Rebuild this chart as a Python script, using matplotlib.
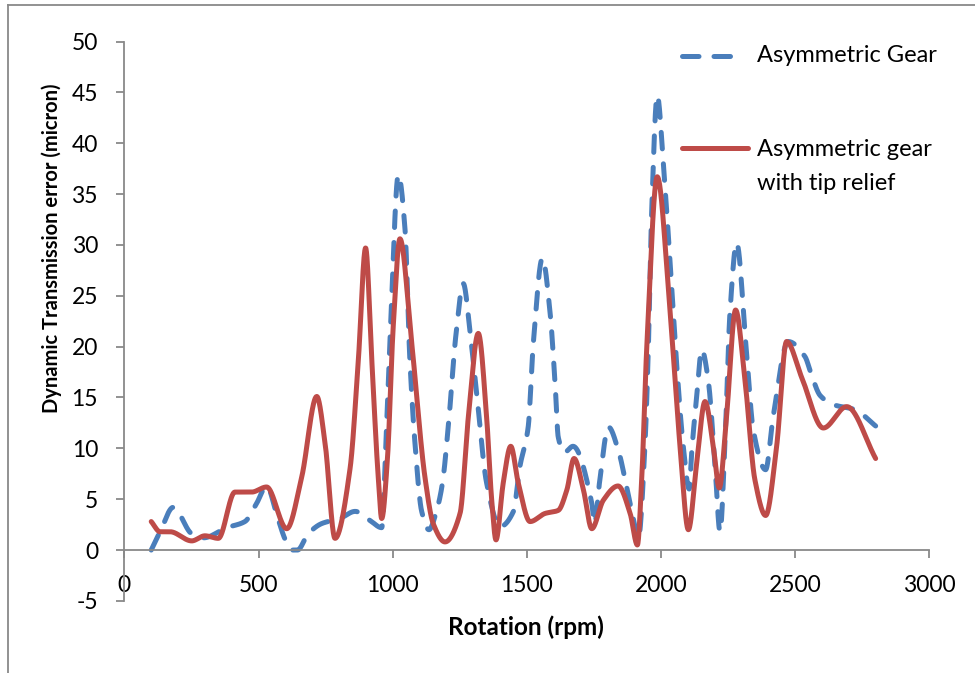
import numpy as np
import matplotlib
matplotlib.use("Agg")
import matplotlib.pyplot as plt
from matplotlib.lines import Line2D

# ---------------- data ----------------
rpm_gear = [100, 133, 182, 251, 294, 381, 449, 493, 530, 570, 600, 625, 645, 685, 735,
            803, 860, 916, 959, 977, 992, 1021, 1046, 1064, 1083, 1108, 1135, 1164,
            1185, 1210, 1235, 1263, 1290, 1313, 1350, 1400, 1450, 1474, 1505, 1524,
            1558, 1586, 1605, 1617, 1640, 1672, 1742, 1752, 1772, 1804, 1841, 1872,
            1903, 1915, 1940, 1953, 1965, 1986, 2009, 2034, 2058, 2083, 2105, 2114,
            2133, 2152, 2176, 2201, 2220, 2238, 2257, 2282, 2317, 2344, 2390, 2418,
            2474, 2537, 2561, 2593, 2642, 2723, 2800]
dte_gear = [0.0, 1.8, 4.2, 1.6, 1.2, 2.2, 2.8, 4.6, 6.3, 3.3, 1.0, 0.0, 0.0, 1.6, 2.6,
            3.1, 3.8, 2.9, 2.2, 12.1, 22.0, 36.9, 31.5, 18.7, 10.5, 3.8, 2.0, 3.9,
            6.5, 13.0, 21.0, 26.2, 21.0, 15.4, 6.6, 2.3, 3.8, 8.2, 12.1, 20.3,
            28.7, 23.5, 16.5, 11.1, 9.6, 10.2, 4.6, 2.6, 6.9, 12.1, 9.8, 6.2,
            2.3, 1.0, 10.2, 20.0, 33.1, 44.7, 38.0, 28.2, 18.4, 10.2, 6.0, 9.5,
            15.1, 19.7, 16.7, 8.5, 1.8, 10.2, 23.3, 30.2, 20.0, 11.8, 7.9, 13.1,
            20.5, 19.0, 17.2, 15.2, 14.3, 13.8, 12.2]

rpm_relief = [100, 133, 170, 251, 300, 350, 412, 474, 530, 605, 661, 717, 748, 785,
              841, 872, 899, 922, 946, 959, 980, 1002, 1027, 1071, 1120, 1151, 1195,
              1251, 1282, 1319, 1350, 1369, 1385, 1412, 1440, 1468, 1512, 1568, 1617,
              1649, 1676, 1711, 1742, 1785, 1840, 1885, 1912, 1928, 1947, 1986, 2034,
              2071, 2102, 2133, 2164, 2195, 2217, 2245, 2278, 2313, 2350, 2390, 2431,
              2468, 2524, 2605, 2692, 2800]
dte_relief = [2.8, 1.8, 1.8, 0.9, 1.4, 1.15, 5.7, 5.7, 6.2, 2.1, 7.2, 15.1, 10.5, 1.15,
              8.0, 18.7, 29.7, 18.7, 7.2, 3.1, 8.8, 22.0, 30.6, 20.3, 7.2, 2.6, 0.8,
              3.6, 13.1, 21.3, 13.1, 4.9, 1.0, 6.6, 10.2, 6.6, 2.8, 3.6, 3.9,
              5.9, 9.0, 5.9, 2.1, 4.9, 6.3, 3.6, 0.5, 6.9, 20.0, 36.7, 23.3,
              10.2, 2.0, 8.5, 14.6, 10.2, 6.1, 13.4, 23.6, 16.7, 6.9, 3.4, 10.2,
              20.5, 17.0, 12.0, 14.1, 9.0]

series_labels = ["Asymmetric Gear", "Asymmetric gear\nwith tip relief"]
x_ticks = [0, 500, 1000, 1500, 2000, 2500, 3000]
y_ticks = [-5, 0, 5, 10, 15, 20, 25, 30, 35, 40, 45, 50]
x_label = "Rotation (rpm)"
y_label = "Dynamic Transmission error (micron)"


def pchip(x, y, xn):
    """Shape-preserving cubic interpolation used only to smooth the drawn line."""
    x = np.asarray(x, float)
    y = np.asarray(y, float)
    h = np.diff(x)
    d = np.diff(y) / h
    m = np.zeros_like(y)
    for k in range(1, len(x) - 1):
        if d[k - 1] * d[k] > 0:
            w1 = 2 * h[k] + h[k - 1]
            w2 = h[k] + 2 * h[k - 1]
            m[k] = (w1 + w2) / (w1 / d[k - 1] + w2 / d[k])
    m[0] = d[0]
    m[-1] = d[-1]
    idx = np.clip(np.searchsorted(x, xn) - 1, 0, len(x) - 2)
    t = (xn - x[idx]) / h[idx]
    h00 = 2 * t**3 - 3 * t**2 + 1
    h10 = t**3 - 2 * t**2 + t
    h01 = -2 * t**3 + 3 * t**2
    h11 = t**3 - t**2
    return h00 * y[idx] + h10 * h[idx] * m[idx] + h01 * y[idx + 1] + h11 * h[idx] * m[idx + 1]


BLUE = "#4A7EBB"
RED = "#BE4B48"
GRAY = "#898989"
FONT = "Lato"
plt.rcParams["font.family"] = [FONT, "DejaVu Sans"]

fig = plt.figure(figsize=(9.75, 6.73), dpi=100)
W, H = 975, 673
ax = fig.add_axes([124.4 / W, (H - 600.9) / H, (929.3 - 124.4) / W, (600.9 - 41.5) / H])

xg = np.linspace(rpm_gear[0], rpm_gear[-1], 3000)
xr = np.linspace(rpm_relief[0], rpm_relief[-1], 3000)

lw = 3.6
ax.plot(xg, pchip(rpm_gear, dte_gear, xg), color=BLUE, lw=lw,
        dashes=(3.3, 3.0), dash_capstyle="round", solid_capstyle="round")
ax.plot(xr, pchip(rpm_relief, dte_relief, xr), color=RED, lw=lw,
        solid_capstyle="round", solid_joinstyle="round")

ax.set_xlim(0, 3000)
ax.set_ylim(-5, 50)

for s in ["top", "right"]:
    ax.spines[s].set_visible(False)
ax.spines["bottom"].set_position(("data", 0))
for s in ["left", "bottom"]:
    ax.spines[s].set_color(GRAY)
    ax.spines[s].set_linewidth(1.3)

ax.set_xticks(x_ticks)
ax.set_yticks(y_ticks)
ax.set_xticklabels([str(v) for v in x_ticks])
ax.set_yticklabels([str(v) for v in y_ticks])
ax.tick_params(axis="both", direction="out", length=5.5, width=1.3, color=GRAY,
               labelsize=16.5, labelcolor="black")
ax.tick_params(axis="x", pad=12.5)
ax.tick_params(axis="y", pad=13.5)
ax.patch.set_visible(False)

# axis titles
fig.text(526 / W, 1 - 627 / H, x_label, ha="center", va="center",
         fontweight="bold", fontsize=17.5)
fig.text(52 / W, 1 - 248 / H, y_label, ha="center", va="center", rotation=90,
         fontweight="bold", fontsize=14.5)

# legend drawn Excel-style
fig.add_artist(Line2D([682 / W, 742 / W], [1 - 56 / H] * 2, color=BLUE, lw=lw,
                      dashes=(3.3, 3.0), dash_capstyle="round"))
fig.text(757 / W, 1 - 56 / H, series_labels[0], ha="left", va="center", fontsize=17)
fig.add_artist(Line2D([682 / W, 748 / W], [1 - 148 / H] * 2, color=RED, lw=lw,
                      solid_capstyle="round"))
fig.text(757 / W, 1 - 150 / H, series_labels[1].split("\n")[0], ha="left", va="center",
         fontsize=17)
fig.text(757 / W, 1 - 184 / H, series_labels[1].split("\n")[1], ha="left", va="center",
         fontsize=17)

# chart-area border (left and top edges visible)
fig.add_artist(Line2D([7.5 / W, 7.5 / W], [0, 1 - 4.5 / H], color=GRAY, lw=1.3))
fig.add_artist(Line2D([7.5 / W, 1], [1 - 4.5 / H] * 2, color=GRAY, lw=1.3))

fig.savefig("out.png", dpi=100)
